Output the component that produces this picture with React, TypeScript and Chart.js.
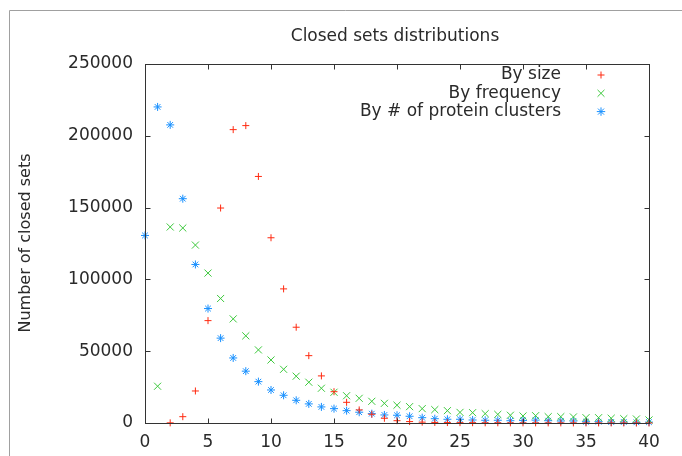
import React, { useEffect, useRef } from "react";
import { Chart, registerables } from "chart.js";

Chart.register(...registerables);

const sizes = [0, 1, 2, 3, 4, 5, 6, 7, 8, 9, 10, 11, 12, 13, 14, 15, 16, 17, 18, 19, 20, 21, 22, 23, 24, 25, 26, 27, 28, 29, 30, 31, 32, 33, 34, 35, 36, 37, 38, 39, 40];

const bySize = [null, null, 100, 4400, 22300, 71300, 149700, 204300, 207100, 171700, 129000, 93400, 66700, 46900, 32800, 21800, 14400, 9100, 6100, 3300, 1600, 1000, 600, 400, 300, 250, 200, 150, 150, 100, 100, 100, 80, 80, 60, 60, 50, 50, 40, 40, 30];

const byFrequency = [null, 25600, 136500, 135800, 123900, 104400, 86700, 72500, 60700, 50900, 43900, 37400, 32600, 28400, 24200, 21400, 19000, 17200, 15100, 13700, 12400, 11400, 10000, 9300, 8600, 7400, 7200, 6500, 6000, 5400, 4900, 5100, 4400, 4400, 4200, 3700, 3700, 3300, 3000, 2800, 2100];

const byClusters = [130600, 220100, 207600, 156200, 110400, 79700, 59100, 45300, 36100, 28800, 23000, 19300, 15800, 13300, 11200, 10000, 8600, 7500, 6500, 5600, 5400, 4700, 3700, 3000, 2600, 2600, 2100, 1900, 1900, 1600, 1800, 2000, 1600, 1400, 1400, 900, 900, 700, 700, 500, 600];

const seriesLabels = ["By size", "By frequency", "By # of protein clusters"];
const seriesColors = ["#ff2a10", "#3cc83c", "#1890ff"];
const seriesStyles = ["cross", "crossRot", "star"];
const seriesRadius = [3.5, 5, 4];
const legendRadius = [3.5, 4.8, 4.2];

const titleText = "Closed sets distributions";
const yTitle = "Number of closed sets";

const FONT = '"DejaVu Sans", sans-serif';

function toPoints(vals: (number | null)[]) {
  const out: { x: number; y: number }[] = [];
  vals.forEach((v, i) => {
    if (v !== null) out.push({ x: sizes[i], y: v });
  });
  return out;
}

function drawSymbol(ctx: CanvasRenderingContext2D, style: string, cx: number, cy: number, r: number) {
  ctx.beginPath();
  if (style === "cross" || style === "star") {
    ctx.moveTo(cx - r, cy);
    ctx.lineTo(cx + r, cy);
    ctx.moveTo(cx, cy - r);
    ctx.lineTo(cx, cy + r);
  }
  if (style === "crossRot" || style === "star") {
    const d = r * 0.72;
    ctx.moveTo(cx - d, cy - d);
    ctx.lineTo(cx + d, cy + d);
    ctx.moveTo(cx - d, cy + d);
    ctx.lineTo(cx + d, cy - d);
  }
  ctx.stroke();
}

const decor = {
  id: "decor",
  afterDraw(chart: any) {
    const { ctx, chartArea: a, scales } = chart;
    const xs = scales.x;
    const ys = scales.y;
    ctx.save();
    // outer image border
    ctx.strokeStyle = "#a0a0a0";
    ctx.lineWidth = 1;
    ctx.beginPath();
    ctx.moveTo(9.5, 456);
    ctx.lineTo(9.5, 10.5);
    ctx.lineTo(682, 10.5);
    ctx.stroke();

    // frame
    ctx.strokeStyle = "#333";
    ctx.lineWidth = 1;
    const L = Math.round(a.left) + 0.5;
    const R = Math.round(a.right) + 0.5;
    const T = Math.round(a.top) + 0.5;
    const B = Math.round(a.bottom) + 0.5;
    ctx.strokeRect(L, T, R - L, B - T);

    // inward ticks
    const tl = 5;
    ctx.beginPath();
    xs.ticks.forEach((t: any) => {
      const px = Math.round(xs.getPixelForValue(t.value)) + 0.5;
      ctx.moveTo(px, B);
      ctx.lineTo(px, B - tl);
      ctx.moveTo(px, T);
      ctx.lineTo(px, T + tl);
    });
    ys.ticks.forEach((t: any) => {
      const py = Math.round(ys.getPixelForValue(t.value)) + 0.5;
      ctx.moveTo(L, py);
      ctx.lineTo(L + tl, py);
      ctx.moveTo(R, py);
      ctx.lineTo(R - tl, py);
    });
    ctx.stroke();

    // title
    ctx.fillStyle = "#2a2a2a";
    ctx.font = "17px " + FONT;
    ctx.textAlign = "center";
    ctx.textBaseline = "middle";
    ctx.fillText(titleText, 395, 37);

    // y axis title
    ctx.save();
    ctx.font = "16px " + FONT;
    ctx.translate(26, 243);
    ctx.rotate(-Math.PI / 2);
    ctx.fillText(yTitle, 0, 0);
    ctx.restore();

    // legend
    ctx.font = "17px " + FONT;
    ctx.textAlign = "right";
    seriesLabels.forEach((lab, i) => {
      const cy = 75 + i * 18.3;
      ctx.fillStyle = "#2a2a2a";
      ctx.fillText(lab, 561, cy);
      ctx.strokeStyle = seriesColors[i];
      ctx.lineWidth = 1;
      drawSymbol(ctx, seriesStyles[i], 601, cy, legendRadius[i]);
    });
    ctx.restore();
  },
};

export default function App() {
  const ref = useRef<HTMLCanvasElement | null>(null);
  useEffect(() => {
    if (!ref.current) return;
    const datasets = [bySize, byFrequency, byClusters].map((vals, i) => ({
      label: seriesLabels[i],
      data: toPoints(vals),
      pointStyle: seriesStyles[i],
      pointRadius: seriesRadius[i],
      pointHoverRadius: seriesRadius[i],
      borderColor: seriesColors[i],
      backgroundColor: seriesColors[i],
      pointBorderWidth: 1,
      borderWidth: 1,
      showLine: false,
      clip: false as any,
    }));
    const chart = new Chart(ref.current, {
      type: "scatter",
      data: { datasets },
      options: {
        animation: false,
        responsive: false,
        devicePixelRatio: 1,
        layout: { padding: { top: 64, right: 33, left: 0, bottom: 0 } },
        plugins: { legend: { display: false }, title: { display: false }, tooltip: { enabled: false } },
        scales: {
          x: {
            type: "linear",
            min: 0,
            max: 40,
            grid: { display: false, drawTicks: false },
            border: { display: false },
            ticks: { stepSize: 5, padding: 9, color: "#2a2a2a", font: { family: FONT, size: 17 }, maxRotation: 0 },
            afterFit: (s: any) => {
              s.height = 33;
            },
          },
          y: {
            type: "linear",
            min: 0,
            max: 250000,
            grid: { display: false, drawTicks: false },
            border: { display: false },
            ticks: {
              stepSize: 50000,
              padding: 12,
              color: "#2a2a2a",
              font: { family: FONT, size: 17 },
              callback: (v: any) => String(v),
            },
            afterFit: (s: any) => {
              s.width = 145;
            },
          },
        },
      },
      plugins: [decor],
    });
    return () => chart.destroy();
  }, []);
  return (
    <div style={{ position: "fixed", left: 0, top: 0, width: 682, height: 456, background: "#fff" }}>
      <canvas ref={ref} width={682} height={456} style={{ width: 682, height: 456 }} />
    </div>
  );
}
